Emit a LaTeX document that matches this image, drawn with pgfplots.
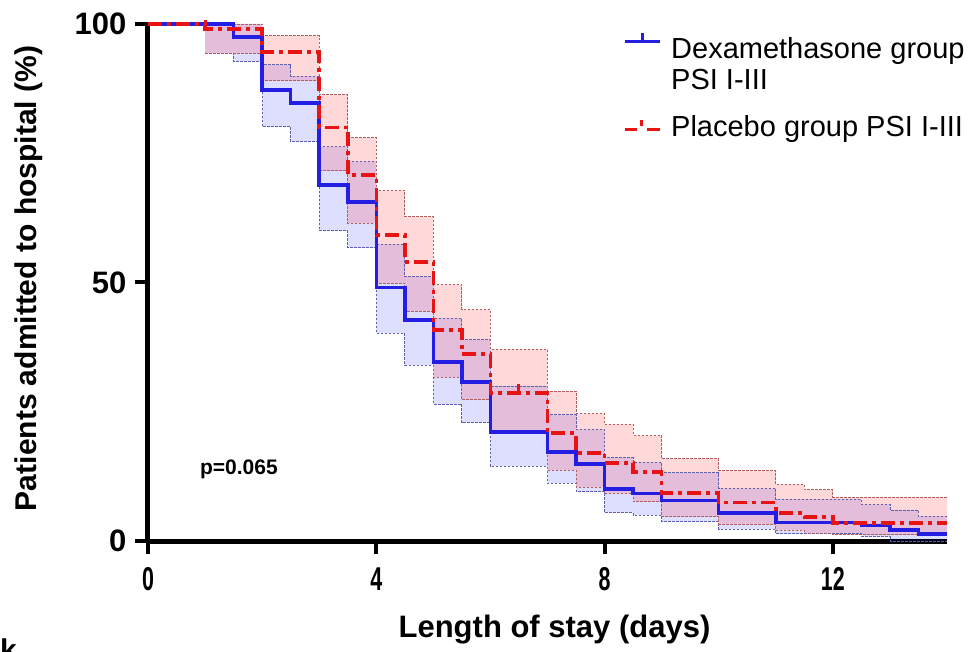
\documentclass[border=0pt]{standalone}
\usepackage{fontspec}
\setmainfont{Liberation Sans}
\newfontfamily\narrowfont[FakeStretch=0.65]{Liberation Sans}
\usepackage{pgfplots}
\pgfplotsset{compat=1.18}
\usepgfplotslibrary{fillbetween}

\definecolor{kmred}{RGB}{232,20,20}
\definecolor{kmblue}{RGB}{35,30,225}
\definecolor{bandred}{RGB}{175,95,95}
\definecolor{bandblue}{RGB}{95,95,175}

\pgfdeclareplotmark{censor}{%
  \pgfpathmoveto{\pgfpoint{0pt}{0pt}}%
  \pgfpathlineto{\pgfpoint{0pt}{\pgfplotmarksize}}%
  \pgfusepathqstroke}

\begin{document}
\begin{tikzpicture}
\begin{axis}[
  at={(0pt,0pt)}, anchor=south west,
  scale only axis, width=799pt, height=517pt,
  xmin=0, xmax=14, ymin=0, ymax=100,
  axis lines*=left,
  axis line style={line width=5pt, black},
  tick style={line width=4pt, black},
  major tick length=13pt,
  tick align=outside,
  xtick={0,4,8,12}, ytick={0,50,100},
  /pgf/number format/assume math mode=true,
  yticklabel style={font=\bfseries\fontsize{31}{31}\selectfont, xshift=-5pt},
  xticklabel style={font=\narrowfont\bfseries\fontsize{33}{33}\selectfont, yshift=-10pt},
  ylabel={Patients admitted to hospital (\%)},
  xlabel={Length of stay (days)},
  every axis y label/.style={at={([xshift=-111pt,yshift=4pt]axis description cs:0,0.5)},
    rotate=90, anchor=base,
    font=\bfseries\fontsize{30}{30}\selectfont},
  every axis x label/.style={at={([xshift=7pt,yshift=-96pt]axis description cs:0.5,0)},
    anchor=base,
    font=\bfseries\fontsize{31}{31}\selectfont},
  clip=false,
  legend style={at={(axis description cs:0.5945,0.9855)}, anchor=north west,
    draw=none, fill=none, row sep=0pt, column sep=10pt, inner sep=0pt,
    nodes={inner sep=0pt},
    font=\fontsize{29}{33}\selectfont},
  legend cell align=left,
]

% legend entries (invisible paths set the row spacing)
\addlegendimage{kmblue, line width=3pt,
  legend image code/.code={
    \path[draw=none, fill=none] (0pt,-15.5pt) -- (0pt,10pt);
    \draw[kmblue, line width=3pt] (0pt,7.5pt) -- (35pt,7.5pt);
    \draw[kmblue, line width=3pt] (17.5pt,7.5pt) -- (17.5pt,16pt);}}
\addlegendentry{Dexamethasone group}
\addlegendimage{legend image code/.code={
    \path[draw=none, fill=none] (0pt,-27pt) -- (35pt,15pt);}}
\addlegendentry{PSI I-III}
\addlegendimage{kmred, line width=3pt,
  legend image code/.code={
    \path[draw=none, fill=none] (0pt,20.5pt) -- (0pt,-10pt);
    \draw[kmred, line width=3pt] (0pt,-2.5pt) -- (12pt,-2.5pt);
    \draw[kmred, line width=3pt] (22pt,-2.5pt) -- (35pt,-2.5pt);
    \draw[kmred, line width=3pt] (17pt,1.5pt) -- (17pt,7.5pt);}}
\addlegendentry{Placebo group PSI I-III}

% confidence bands, dexamethasone
\addplot[name path=bu, const plot, bandblue, line width=0.8pt,
  dash pattern=on 2.5pt off 1.5pt, forget plot] coordinates {
  (1,100) (1.5,100) (2,92.1) (2.5,89.9) (3,76.3) (3.5,73.4) (4,57.4)
  (4.5,51.1) (5,43.1) (5.5,38.9) (6,30) (7,24.4) (7.5,21.6) (8,16.1)
  (8.5,15.2) (9,13.2) (10,10.2) (11,8.1) (12.5,7.1) (13,6) (13.5,4.8) (14,4.8)};
\addplot[name path=bl, const plot, bandblue, line width=0.8pt,
  dash pattern=on 2.5pt off 1.5pt, forget plot] coordinates {
  (1,94.4) (1.5,92.7) (2,80.1) (2.5,77.2) (3,60) (3.5,56.7) (4,40.2)
  (4.5,34) (5,26.5) (5.5,22.9) (6,14.5) (7,11.2) (7.5,9.5) (8,5.5)
  (8.5,5) (9,3.7) (10,2.3) (11,1.4) (12.5,0.8) (13,0) (14,0)};
\addplot[fill=blue, fill opacity=0.13, forget plot] fill between[of=bu and bl];

% confidence bands, placebo
\addplot[name path=ru, const plot, bandred, line width=0.8pt,
  dash pattern=on 2.5pt off 1.5pt, forget plot] coordinates {
  (1,100) (2,97.7) (3,86.3) (3.5,78) (4,67.8) (4.5,62.7) (5,49.6)
  (5.5,44.8) (6,37.1) (7,29) (7.5,24.7) (8,22.6) (8.5,20.4) (9,15.9)
  (10,13.6) (11,11) (11.5,9.9) (12,8.5) (14,8.5)};
\addplot[name path=rl, const plot, bandred, line width=0.8pt,
  dash pattern=on 2.5pt off 1.5pt, forget plot] coordinates {
  (1,94.4) (2,89) (3,71.6) (3.5,61.5) (4,49.9) (4.5,44.5) (5,31.7)
  (5.5,27.3) (6,20.8) (7,13.7) (7.5,10.4) (8,9.2) (8.5,7.6) (9,4.7)
  (10,3.3) (11,2.1) (11.5,1.5) (12,1.2) (14,1.2)};
\addplot[fill=red, fill opacity=0.15, forget plot] fill between[of=ru and rl];

% survival curves
\addplot[const plot, kmblue, line width=3.5pt, forget plot] coordinates {
  (0,100) (1.5,97.5) (2,87.2) (2.5,84.7) (3,68.9) (3.5,65.6) (4,49)
  (4.5,42.7) (5,34.6) (5.5,30.8) (6,21.1) (7,17.2) (7.5,14.9) (8,10.1)
  (8.5,9.2) (9,7.8) (10,5.4) (11,3.6) (12.5,3) (13,2.1) (13.5,1.4) (14,1.4)};
\addplot[const plot, kmred, line width=3.5pt,
  dash pattern=on 14pt off 5pt on 4pt off 5pt, forget plot] coordinates {
  (0,100) (1,99) (2,94.6) (3,80) (3.5,70.8) (4,59.2) (4.5,54) (5,40.8)
  (5.5,36.2) (6,28.6) (7,20.9) (7.5,17) (8,15.1) (8.5,13.3) (9,9.3)
  (10,7.4) (11,5.4) (11.5,4.6) (12,3.5) (14,3.5)};
% censor ticks
\addplot[only marks, mark=censor, mark size=9pt, kmred, line width=3pt,
  forget plot] coordinates {(1,99) (6.5,28.6)};

\node[anchor=base west, inner sep=0pt, font=\bfseries\fontsize{21}{21}\selectfont]
  at (axis cs:0.91,12.8) {p=0.065};
\end{axis}
\node[anchor=north west, inner sep=0pt, font=\bfseries\fontsize{30}{30}\selectfont]
  at (-148pt,-98pt) {k};
\pgfresetboundingbox
\useasboundingbox (-148pt,-110pt) rectangle (821pt,541pt);
\end{tikzpicture}
\end{document}
